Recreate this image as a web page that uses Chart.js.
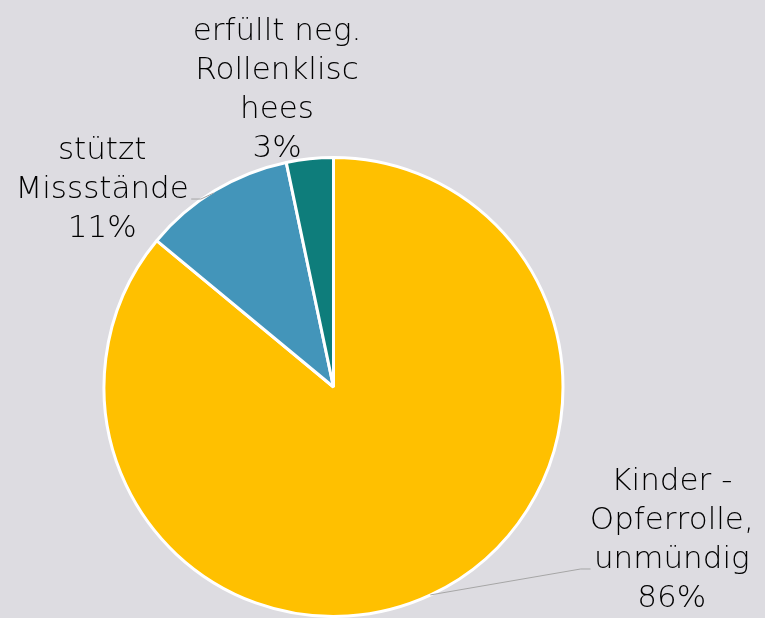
<!DOCTYPE html>
<html>
<head>
<meta charset="utf-8">
<script src="https://cdn.jsdelivr.net/npm/chart.js@4.4.0/dist/chart.umd.min.js"></script>
<style>
  html, body { margin: 0; padding: 0; background: #dddce1; }
  canvas { display: block; }
</style>
</head>
<body>
<canvas id="pie" width="765" height="618"></canvas>
<script>
const categories = ['Kinder - Opferrolle, unmündig', 'stützt Missstände', 'erfüllt neg. Rollenklischees'];
const values = [86, 10.7, 3.3];
const percentLabels = ['86%', '11%', '3%'];
const labelLines = [
  ['Kinder -', 'Opferrolle,', 'unmündig'],
  ['stützt', 'Missstände'],
  ['erfüllt neg.', 'Rollenklisc', 'hees']
];
const colors = ['#ffc000', '#4395ba', '#0e7d7b'];

// label placement relative to pie centre, in units of radius
const labelPlace = [
  { x: 1.474, y: 0.413, lead: [[0.422, 0.906], [1.077, 0.793], [1.12, 0.793]] },
  { x: -1.008, y: -1.029, lead: [[-0.522, -0.845], [-0.578, -0.819], [-0.62, -0.819]] },
  { x: -0.246, y: -1.547, lead: null }
];

const outsideLabels = {
  id: 'outsideLabels',
  afterDatasetsDraw(chart) {
    const ctx = chart.ctx;
    const arc = chart.getDatasetMeta(0).data[0];
    const cx = arc.x, cy = arc.y, r = arc.outerRadius;
    const lineH = 39;
    ctx.save();
    labelPlace.forEach((p, i) => {
      if (p.lead) {
        ctx.beginPath();
        ctx.strokeStyle = '#a6a6a6';
        ctx.lineWidth = 1;
        p.lead.forEach((pt, k) => {
          const x = cx + pt[0] * r, y = cy + pt[1] * r;
          if (k === 0) ctx.moveTo(x, y); else ctx.lineTo(x, y);
        });
        ctx.stroke();
      }
      const lines = labelLines[i].concat([percentLabels[i]]);
      ctx.fillStyle = '#000000';
      ctx.font = '200 31px "DejaVu Sans"';
      ctx.textAlign = 'center';
      ctx.textBaseline = 'middle';
      lines.forEach((t, k) => {
        ctx.fillText(t, cx + p.x * r, cy + p.y * r + k * lineH);
      });
    });
    ctx.restore();
  }
};

new Chart(document.getElementById('pie'), {
  type: 'pie',
  data: {
    labels: categories,
    datasets: [{
      data: values,
      backgroundColor: colors,
      borderColor: '#ffffff',
      borderWidth: 3
    }]
  },
  options: {
    responsive: false,
    animation: false,
    layout: { padding: { left: 100, right: 198, top: 156, bottom: -5 } },
    plugins: {
      legend: { display: false },
      tooltip: { enabled: false }
    }
  },
  plugins: [outsideLabels]
});
</script>
</body>
</html>
